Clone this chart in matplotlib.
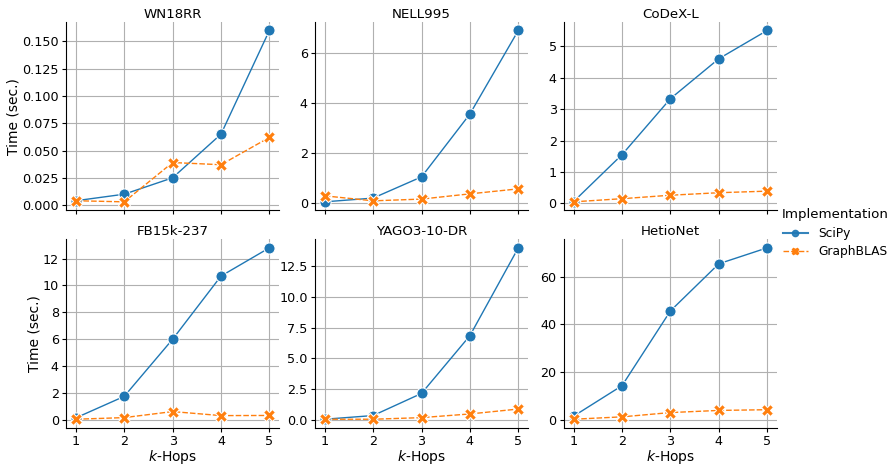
import numpy as np
import matplotlib
matplotlib.use('Agg')
import matplotlib.pyplot as plt
from matplotlib.lines import Line2D
from matplotlib.ticker import MultipleLocator

hops = [1, 2, 3, 4, 5]
datasets = ['WN18RR', 'NELL995', 'CoDeX-L', 'FB15k-237', 'YAGO3-10-DR', 'HetioNet']

scipy_t = {
    'WN18RR': [0.004, 0.010, 0.025, 0.065, 0.160],
    'NELL995': [0.03, 0.18, 1.03, 3.55, 6.9],
    'CoDeX-L': [0.06, 1.55, 3.33, 4.6, 5.5],
    'FB15k-237': [0.15, 1.75, 6.0, 10.7, 12.8],
    'YAGO3-10-DR': [0.05, 0.35, 2.15, 6.85, 14.0],
    'HetioNet': [1.5, 14.3, 45.7, 65.5, 72.2],
}
graphblas_t = {
    'WN18RR': [0.004, 0.003, 0.039, 0.037, 0.062],
    'NELL995': [0.27, 0.07, 0.14, 0.35, 0.55],
    'CoDeX-L': [0.05, 0.15, 0.26, 0.34, 0.39],
    'FB15k-237': [0.05, 0.17, 0.62, 0.32, 0.33],
    'YAGO3-10-DR': [0.05, 0.05, 0.18, 0.48, 0.88],
    'HetioNet': [0.2, 1.2, 3.0, 3.9, 4.2],
}
# y tick spacing per facet
ystep = {'WN18RR': 0.025, 'NELL995': 2, 'CoDeX-L': 1, 'FB15k-237': 2,
         'YAGO3-10-DR': 2.5, 'HetioNet': 20}

blue = '#1f77b4'
orange = '#ff7f0e'

fig, axes = plt.subplots(2, 3, figsize=(8.94, 4.65), dpi=100, sharex=True)
fig.subplots_adjust(left=0.074, right=0.869, top=0.953, bottom=0.080, wspace=0.169, hspace=0.153)

for ax, name in zip(axes.flat, datasets):
    ax.grid(True, color='#b0b0b0', lw=0.8)
    ax.set_axisbelow(True)
    ax.plot(hops, scipy_t[name], color=blue, lw=1, marker='o', ms=8, mec='white', mew=0.75)
    ax.plot(hops, graphblas_t[name], color=orange, lw=1, ls=(0, (4, 1.5)), marker='X', ms=8, mec='white', mew=0.75)
    ax.set_title(name, fontsize=9.6, pad=3)
    ax.spines['top'].set_visible(False)
    ax.spines['right'].set_visible(False)
    ax.set_xticks(hops)
    ax.yaxis.set_major_locator(MultipleLocator(ystep[name]))
    ax.tick_params(labelsize=9.2, length=3.2, pad=2)

for ax in axes[1]:
    ax.set_xlabel('$k$-Hops', fontsize=10, labelpad=0)
for ax in axes[:, 0]:
    ax.set_ylabel('Time (sec.)', fontsize=10, labelpad=1)

handles = [
    Line2D([], [], color=blue, lw=1.5, marker='o', ms=4.5, mec=blue, alpha=0.9),
    Line2D([], [], color=orange, lw=1, ls=(0, (4, 1.5)), marker='X', ms=4.5, mec=orange),
]
fig.legend(handles, ['SciPy', 'GraphBLAS'], title='Implementation', loc='center left',
           bbox_to_anchor=(0.872, 0.498), frameon=False, fontsize=8.8, title_fontsize=9.6,
           borderaxespad=0, borderpad=0.2, handletextpad=0.9, labelspacing=0.45)

fig.savefig('out.png', dpi=100)
